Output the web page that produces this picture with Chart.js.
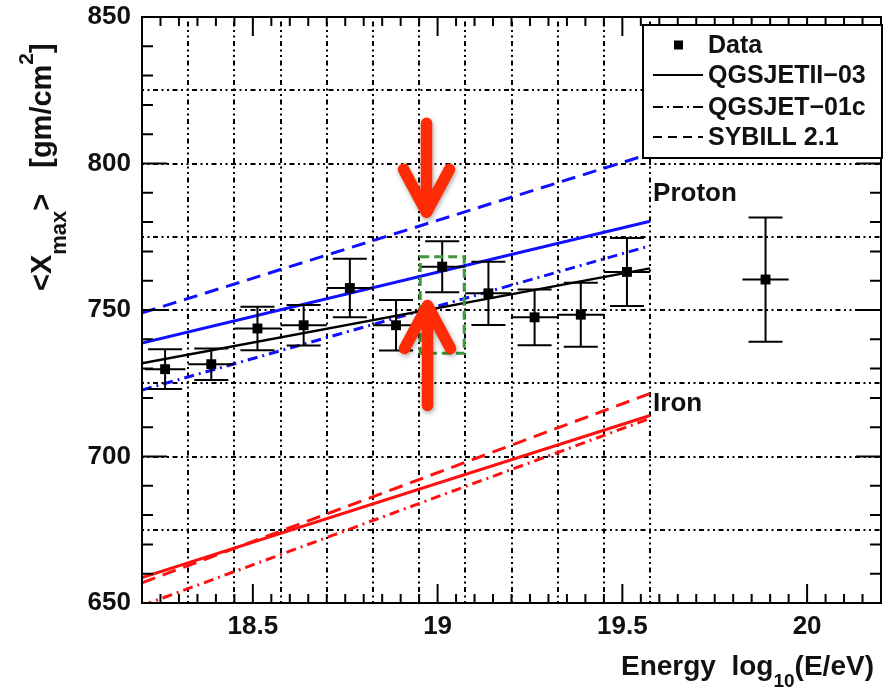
<!DOCTYPE html>
<html>
<head>
<meta charset="utf-8">
<script src="https://cdn.jsdelivr.net/npm/chart.js@4.4.1/dist/chart.umd.min.js"></script>
<style>
  html, body { margin: 0; padding: 0; background: #fff; }
  #wrap { width: 888px; height: 691px; position: relative; }
</style>
</head>
<body>
<div id="wrap"><canvas id="c"></canvas></div>
<script>
// Measured <Xmax> per energy bin
const energy       = [18.2625, 18.3875, 18.5125, 18.6375, 18.7625, 18.8875, 19.0125, 19.1375, 19.2625, 19.3875, 19.5125, 19.8875];
const xmax         = [729.8, 731.5, 743.7, 744.8, 757.5, 744.8, 764.8, 755.7, 747.5, 748.4, 763.0, 760.4];
const xmaxErr      = [6.8, 5.4, 7.4, 6.9, 10.0, 8.6, 8.7, 10.8, 9.5, 10.9, 11.6, 21.2];
const binHalfWidth = [0.055, 0.0625, 0.0625, 0.0625, 0.0625, 0.0625, 0.0625, 0.0625, 0.0625, 0.0625, 0.0625, 0.0625];

// Model predictions (straight lines between the two end energies)
const modelEnergy    = [18.2, 19.575];
const protonQGSJETII = [738.7, 780.3];
const protonQGSJET01 = [722.7, 771.9];
const protonSIBYLL   = [749.0, 803.3];
const ironQGSJETII   = [658.7, 714.0];
const ironQGSJET01   = [649.1, 713.0];
const ironSIBYLL     = [656.9, 721.5];
const dataFit        = [731.8, 764.2];

// Axes, grid and tick labels
const xTickValues = [18.5, 19, 19.5, 20];
const xTickLabels = ['18.5', '19', '19.5', '20'];
const yTickValues = [650, 700, 750, 800, 850];
const yTickLabels = ['650', '700', '750', '800', '850'];
const gridX = [18.325, 18.45, 18.575, 18.7, 18.825, 18.95, 19.075, 19.2, 19.325, 19.45, 19.575];
const gridY = [675, 700, 725, 750, 775, 800, 825];

// Legend
const legendLabels = ['Data', 'QGSJETII\u221203', 'QGSJET\u221201c', 'SYBILL 2.1'];
const legendDashes = [null, [], [10, 4, 2, 4], [9, 6]];

// Highlighted bin and the arrows pointing at it
const boxBin = { x0: 18.953, x1: 19.072, y0: 735.2, y1: 768.2 };
const arrowE = 18.97;
const arrowDownTip = 781.5;
const arrowUpTip = 753.4;

const FONT = "'Liberation Sans', Arial, Helvetica, sans-serif";
const BLUE = '#1010ff', RED = '#ff1010', INK = '#111';

const pts = (xs, ys) => xs.map((v, i) => ({ x: v, y: ys[i] }));
const lineSet = (label, ys, color, dash, width) => ({
  label, data: pts(modelEnergy, ys), showLine: true, borderColor: color,
  borderWidth: width, borderDash: dash, pointRadius: 0, fill: false, clip: 0
});

const decor = {
  id: 'decor',
  beforeDatasetsDraw(chart) {
    const { ctx, chartArea: a, scales: { x, y } } = chart;
    ctx.save();
    ctx.beginPath(); ctx.rect(a.left, a.top, a.right - a.left, a.bottom - a.top); ctx.clip();
    ctx.strokeStyle = '#000'; ctx.lineWidth = 2;
    ctx.setLineDash([2, 3.5, 2, 3.5, 5, 3.5]);
    gridY.forEach(v => {
      const p = Math.round(y.getPixelForValue(v));
      ctx.beginPath(); ctx.moveTo(a.left, p); ctx.lineTo(a.right, p); ctx.stroke();
    });
    gridX.forEach(v => {
      const p = Math.round(x.getPixelForValue(v));
      ctx.beginPath(); ctx.moveTo(p, a.bottom); ctx.lineTo(p, a.top); ctx.stroke();
    });
    ctx.restore();
  },
  afterDatasetsDraw(chart) {
    const { ctx, scales: { x, y } } = chart;
    ctx.save();
    ctx.strokeStyle = '#000'; ctx.lineWidth = 2; ctx.setLineDash([]);
    energy.forEach((e, i) => {
      const px = x.getPixelForValue(e);
      const py = y.getPixelForValue(xmax[i]);
      const t = y.getPixelForValue(xmax[i] + xmaxErr[i]);
      const b = y.getPixelForValue(xmax[i] - xmaxErr[i]);
      const l = x.getPixelForValue(e - binHalfWidth[i]);
      const r = x.getPixelForValue(e + binHalfWidth[i]);
      ctx.beginPath();
      ctx.moveTo(px, t); ctx.lineTo(px, b);
      ctx.moveTo(px - 17, t); ctx.lineTo(px + 17, t);
      ctx.moveTo(px - 17, b); ctx.lineTo(px + 17, b);
      ctx.moveTo(l, py); ctx.lineTo(r, py);
      ctx.stroke();
    });
    ctx.restore();
  },
  afterDraw(chart) {
    const { ctx, chartArea: a, scales: { x, y } } = chart;
    ctx.save();
    ctx.strokeStyle = '#000'; ctx.lineWidth = 2; ctx.setLineDash([]);
    // ticks on all four sides
    ctx.beginPath();
    for (let k = 0; k <= 40; k++) {
      const v = 18.2 + k * 0.05;
      const p = x.getPixelForValue(v);
      const major = Math.abs(v * 2 - Math.round(v * 2)) < 1e-6;
      const len = major ? 19 : 9;
      ctx.moveTo(p, a.bottom); ctx.lineTo(p, a.bottom - len);
      ctx.moveTo(p, a.top); ctx.lineTo(p, a.top + len);
    }
    for (let v = 650; v <= 850; v += 10) {
      const p = y.getPixelForValue(v);
      const len = v % 50 === 0 ? 25 : 11;
      ctx.moveTo(a.left, p); ctx.lineTo(a.left + len, p);
      ctx.moveTo(a.right, p); ctx.lineTo(a.right - len, p);
    }
    ctx.stroke();
    // frame
    ctx.strokeRect(a.left, a.top, a.right - a.left, a.bottom - a.top);

    // highlighted bin
    ctx.strokeStyle = '#3c9a3c'; ctx.lineWidth = 3; ctx.setLineDash([9, 5]);
    const bx0 = x.getPixelForValue(boxBin.x0), bx1 = x.getPixelForValue(boxBin.x1);
    const by0 = y.getPixelForValue(boxBin.y1), by1 = y.getPixelForValue(boxBin.y0);
    ctx.strokeRect(bx0, by0, bx1 - bx0, by1 - by0);
    ctx.setLineDash([]);

    // arrows
    const ax = x.getPixelForValue(arrowE);
    ctx.save();
    ctx.strokeStyle = '#ff2b05'; ctx.lineWidth = 11.5; ctx.lineCap = 'round'; ctx.lineJoin = 'round';
    ctx.shadowColor = 'rgba(0,0,0,0.35)'; ctx.shadowBlur = 5; ctx.shadowOffsetX = 1; ctx.shadowOffsetY = 2;
    const dTip = y.getPixelForValue(arrowDownTip) - 5.5;
    ctx.beginPath();
    ctx.moveTo(ax, dTip - 89); ctx.lineTo(ax, dTip);
    ctx.moveTo(ax - 23, dTip - 43); ctx.lineTo(ax, dTip); ctx.lineTo(ax + 23, dTip - 43);
    ctx.stroke();
    const uTip = y.getPixelForValue(arrowUpTip) + 5.5;
    ctx.beginPath();
    ctx.moveTo(ax + 1, uTip + 100); ctx.lineTo(ax + 1, uTip);
    ctx.moveTo(ax - 22, uTip + 43); ctx.lineTo(ax + 1, uTip); ctx.lineTo(ax + 24, uTip + 43);
    ctx.stroke();
    ctx.restore();

    // legend
    const L = { x: 643, y: 25, w: 239, h: 133 };
    ctx.fillStyle = '#fff'; ctx.fillRect(L.x, L.y, L.w, L.h);
    ctx.strokeStyle = '#000'; ctx.lineWidth = 2; ctx.strokeRect(L.x, L.y, L.w, L.h);
    const rows = [45, 75, 107, 137];
    ctx.font = `bold 25px ${FONT}`; ctx.textBaseline = 'middle'; ctx.textAlign = 'left';
    legendLabels.forEach((lab, i) => {
      const ry = rows[i];
      if (legendDashes[i] === null) {
        ctx.fillStyle = '#000'; ctx.fillRect(674, ry - 4.5, 9, 9);
      } else {
        ctx.strokeStyle = '#000'; ctx.lineWidth = 2; ctx.setLineDash(legendDashes[i]);
        ctx.beginPath(); ctx.moveTo(653, ry); ctx.lineTo(703, ry); ctx.stroke();
        ctx.setLineDash([]);
      }
      ctx.fillStyle = INK; ctx.fillText(lab, 708, ry + 1);
    });

    // composition labels
    ctx.textBaseline = 'alphabetic';
    ctx.font = `bold 26px ${FONT}`; ctx.fillStyle = INK;
    ctx.fillText('Proton', x.getPixelForValue(19.575) + 3, y.getPixelForValue(787.2));
    ctx.fillText('Iron', x.getPixelForValue(19.575) + 3, y.getPixelForValue(715.5));

    // x-axis title
    let tx = 621;
    const tb = 675;
    ctx.font = `bold 28px ${FONT}`;
    ctx.fillText('Energy  log', tx, tb); tx += ctx.measureText('Energy  log').width;
    ctx.font = `bold 19px ${FONT}`;
    ctx.fillText('10', tx, tb + 12); tx += ctx.measureText('10').width;
    ctx.font = `bold 28px ${FONT}`;
    ctx.fillText('(E/eV)', tx, tb);

    // y-axis title
    ctx.save();
    ctx.translate(51, 291); ctx.rotate(-Math.PI / 2);
    let ty = 0;
    ctx.font = `bold 29px ${FONT}`;
    ctx.fillText('<X', ty, 0); ty += ctx.measureText('<X').width;
    ctx.font = `bold 22px ${FONT}`;
    ctx.fillText('max', ty, 15); ty += ctx.measureText('max').width;
    ctx.font = `bold 29px ${FONT}`;
    ctx.fillText('>', ty, 0); ty += ctx.measureText('>').width + 26;
    ctx.fillText('[gm/cm', ty, 0); ty += ctx.measureText('[gm/cm').width;
    ctx.font = `bold 21px ${FONT}`;
    ctx.fillText('2', ty, -18); ty += ctx.measureText('2').width;
    ctx.font = `bold 29px ${FONT}`;
    ctx.fillText(']', ty, 0);
    ctx.restore();

    ctx.restore();
  }
};

new Chart(document.getElementById('c'), {
  type: 'scatter',
  data: {
    datasets: [
      { label: 'Data', data: pts(energy, xmax), pointStyle: 'rect', pointRadius: 7,
        pointBackgroundColor: '#000', pointBorderColor: '#000', pointBorderWidth: 0, showLine: false, clip: 0 },
      lineSet('Fit', dataFit, '#000', [], 2.5),
      lineSet('Proton QGSJETII-03', protonQGSJETII, BLUE, [], 3),
      lineSet('Proton QGSJET-01c', protonQGSJET01, BLUE, [10, 5, 2, 5], 3),
      lineSet('Proton SIBYLL 2.1', protonSIBYLL, BLUE, [14, 8], 3),
      lineSet('Iron QGSJETII-03', ironQGSJETII, RED, [], 3),
      lineSet('Iron QGSJET-01c', ironQGSJET01, RED, [10, 5, 2, 5], 3),
      lineSet('Iron SIBYLL 2.1', ironSIBYLL, RED, [14, 8], 3)
    ]
  },
  options: {
    responsive: true, maintainAspectRatio: false, animation: false,
    layout: { padding: { left: 0, top: 17, right: 3, bottom: 0 } },
    plugins: { legend: { display: false }, tooltip: { enabled: false } },
    scales: {
      x: {
        type: 'linear', min: 18.2, max: 20.2,
        grid: { display: false, drawTicks: false }, border: { display: false },
        afterBuildTicks: s => { s.ticks = xTickValues.map(v => ({ value: v })); },
        afterFit: s => { s.height = 88; s.paddingLeft = 0; s.paddingRight = 0; },
        ticks: { autoSkip: false, maxRotation: 0, padding: 8, color: INK,
          font: { family: FONT, size: 26, weight: 'bold' },
          callback: (v, i) => xTickLabels[i] }
      },
      y: {
        type: 'linear', min: 650, max: 850,
        grid: { display: false, drawTicks: false }, border: { display: false },
        afterBuildTicks: s => { s.ticks = yTickValues.map(v => ({ value: v })); },
        afterFit: s => { s.width = 142; s.paddingTop = 0; s.paddingBottom = 0; },
        ticks: { autoSkip: false, padding: 11, color: INK,
          font: { family: FONT, size: 26, weight: 'bold' },
          callback: (v, i) => yTickLabels[i] }
      }
    }
  },
  plugins: [decor]
});
</script>
</body>
</html>
